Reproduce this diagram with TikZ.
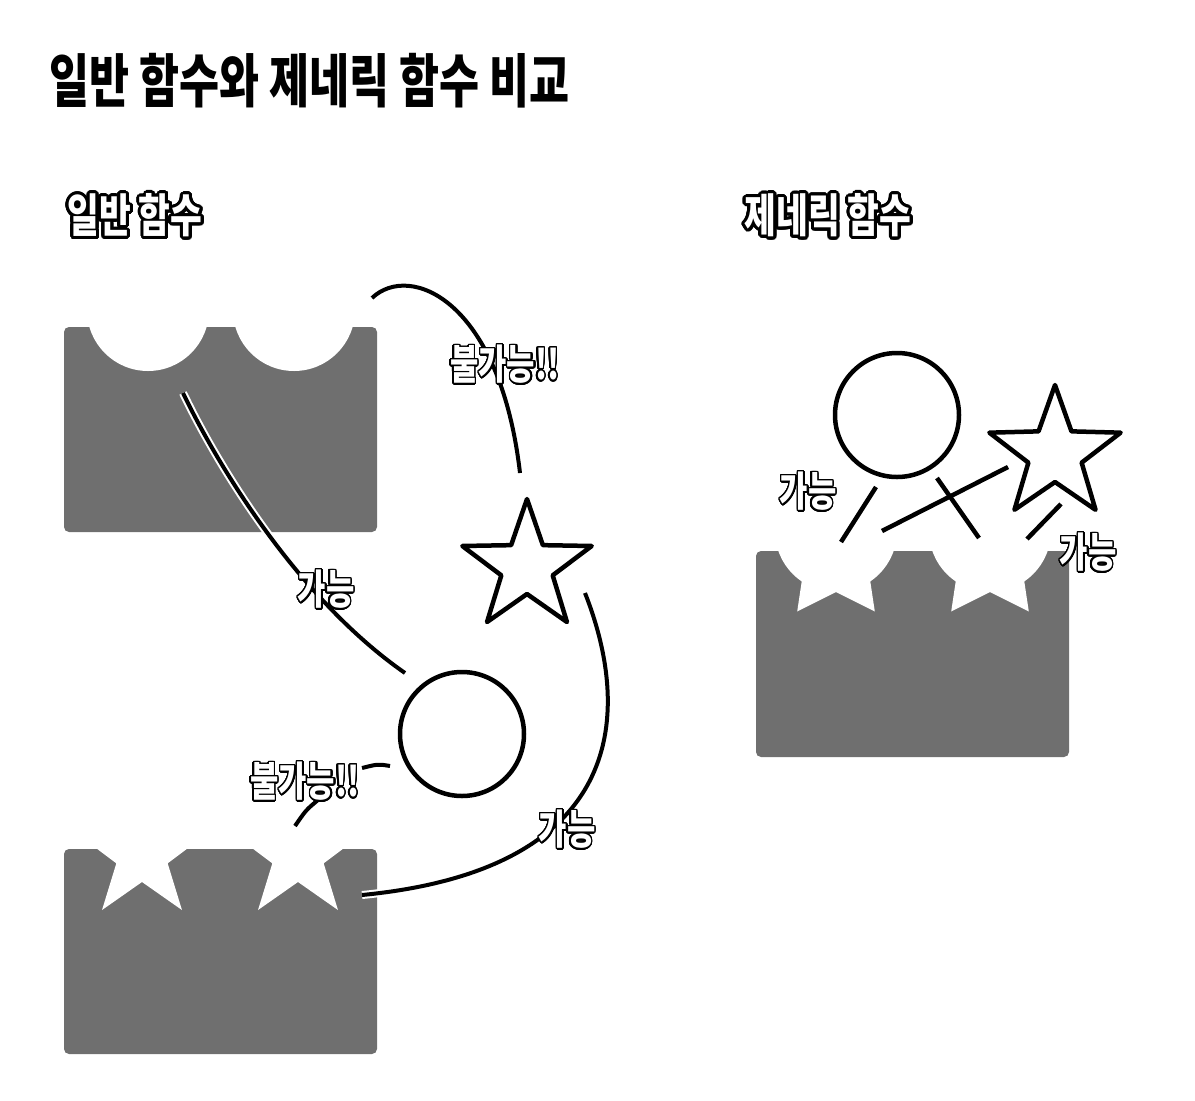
\documentclass[tikz,border=0pt]{standalone}
\usepackage{fontspec}
\usepackage{contour}
\newfontfamily\krfont{Noto Sans CJK KR}[FakeStretch=0.75]
\definecolor{blockgray}{RGB}{111,111,111}
\contournumber{32}
%% five-pointed star, outer and inner radius
\newcommand{\starpts}[2]{plot[samples at={0,...,9}] ({\x*36-90}:{mod(\x,2)==0 ? #1 : #2}) -- cycle}

\begin{document}
\begin{tikzpicture}[x=1pt,y=-1pt,
    block/.style={fill=blockgray, rounded corners=5pt},
    shapeline/.style={line width=4.5pt, line join=round},
    conn/.style={line width=4pt, preaction={draw=white, line width=8pt}},
    seg/.style={line width=4.5pt},
    lbl/.style={text=white, inner sep=0pt, font=\krfont\bfseries\fontsize{41}{41}\selectfont},
    head/.style={text=white, inner sep=0pt, font=\krfont\bfseries\fontsize{46}{46}\selectfont}]
    \useasboundingbox (0,0) rectangle (1195,1101);

    %% Title
    \node[anchor=west, inner sep=0pt, font=\krfont\bfseries\fontsize{58}{58}\selectfont] (title) at (49,81) {일반 함수와 제네릭 함수 비교};

    %% Section headings
    \node[head] (normalhead) at (135,217) {\contourlength{3pt}\contour{black}{일반 함수}};
    \node[head] (generichead) at (828,217) {\contourlength{3pt}\contour{black}{제네릭 함수}};

    %% Normal function: circle slot block
    \fill[block] (64,327) rectangle (377,532);
    \begin{scope}
        \clip (64,327) rectangle (377,532);
        \fill[white] (148,310) circle (61);
        \fill[white] (294,310) circle (61);
    \end{scope}

    %% Normal function: star slot block
    \fill[block] (64,849) rectangle (377,1054);
    \begin{scope}
        \clip (64,849) rectangle (377,1054);
        \fill[white, shift={(142,855)}] \starpts{68}{27};
        \fill[white, shift={(298,855)}] \starpts{68}{27};
    \end{scope}

    %% Generic function: circle + star slot block
    \fill[block] (756,551) rectangle (1069,757);
    \begin{scope}
        \clip (756,551) rectangle (1069,757);
        \foreach \cx in {836,990} {
            \fill[white] (\cx,531) circle (61);
            \fill[white, shift={(\cx,558)}] \starpts{66}{34};
        }
    \end{scope}

    %% Loose pieces
    \draw[shapeline] (462,734) circle (62);
    \draw[shapeline, shift={(527,567)}] \starpts{68}{27};
    \draw[shapeline] (897,415) circle (62);
    \draw[shapeline, shift={(1055,454)}] \starpts{69}{28};

    %% Connector end points
    \coordinate (circslot) at (183,393);
    \coordinate (circin)   at (405,673);
    \coordinate (circtop)  at (372,298);
    \coordinate (starin)   at (520,473);
    \coordinate (starout)  at (585,593);
    \coordinate (starslot) at (362,895);

    %% Normal function connectors
    \draw[conn] (circslot) .. controls (220,470) and (300,600) .. (circin);
    \draw[conn] (circtop) .. controls (410,262) and (500,300) .. (starin);
    \draw[conn] (starout) .. controls (635,720) and (620,870) .. (starslot);
    %% broken one
    \draw[conn] (390,766) .. controls (378,764) .. (362,768);
    \draw[conn] (318,800) .. controls (306,810) .. (295,826);

    %% Generic function connectors
    \draw[seg] (876,487) -- (841,542);
    \draw[seg] (1008,467) -- (882,531);
    \draw[seg] (937,478) -- (979,538);
    \draw[seg] (1061,504) -- (1027,539);

    %% Labels
    \contourlength{1.5pt}
    \node[lbl] (nope1) at (505,365) {\contour{black}{불가능!!}};
    \node[lbl] (ok1)   at (326,590) {\contour{black}{가능}};
    \node[lbl] (nope2) at (305,782) {\contour{black}{불가능!!}};
    \node[lbl] (ok2)   at (567,830) {\contour{black}{가능}};
    \node[lbl] (ok3)   at (808,492) {\contour{black}{가능}};
    \node[lbl] (ok4)   at (1088,553) {\contour{black}{가능}};
\end{tikzpicture}
\end{document}
